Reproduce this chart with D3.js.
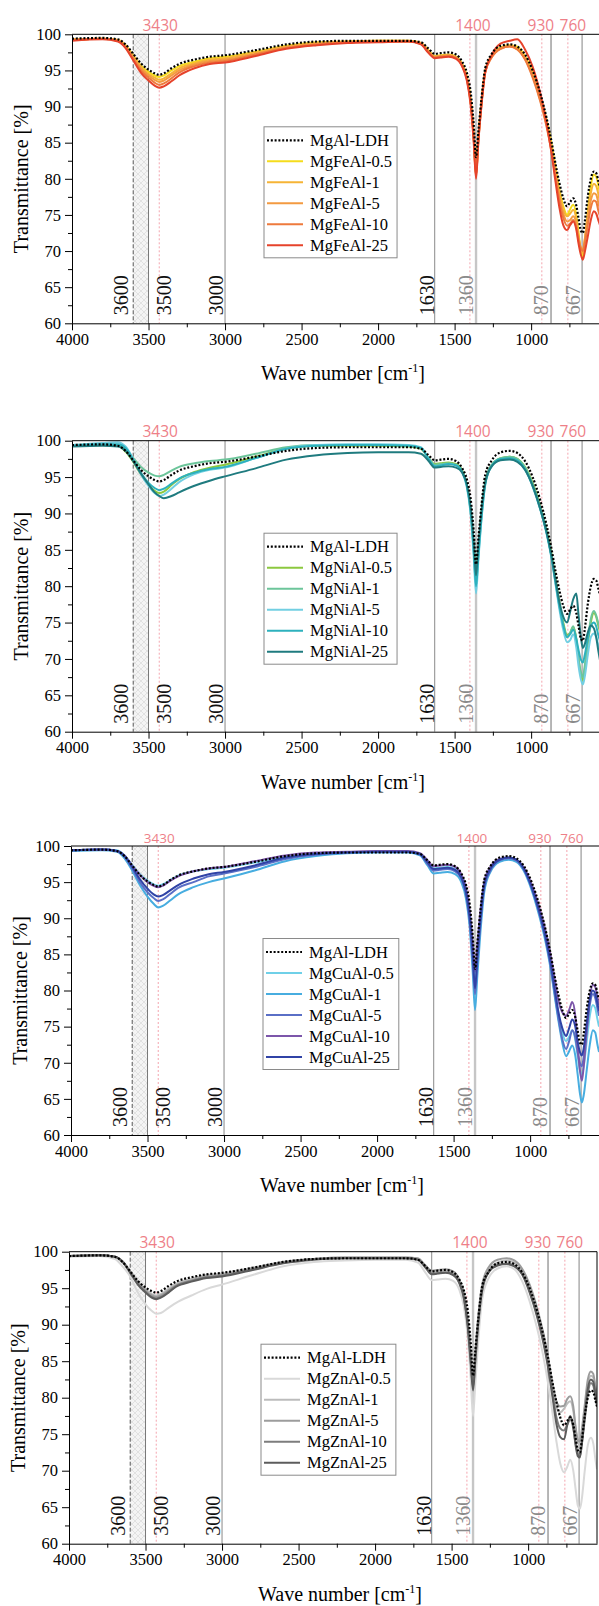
<!DOCTYPE html>
<html><head><meta charset="utf-8">
<script src="https://cdn.jsdelivr.net/npm/d3@7"></script>
<style>body{margin:0;background:#fff}</style>
</head><body><svg id="c" width="599" height="1606" style="background:#fff"></svg>
<script>
// ---------------- DATA ----------------
const wavenumbers = [4000,3800,3700,3650,3600,3550,3500,3460,3430,3400,3350,3300,3200,3100,3000,2800,2600,2400,2200,2000,1800,1720,1670,1630,1590,1540,1490,1450,1420,1395,1375,1360,1345,1325,1300,1260,1200,1140,1090,1040,990,940,900,870,840,815,790,765,745,725,705,690,675,662,650,630,610,590,575,560,550];

const mgAlLDH = [99.4,99.5,99.3,98.6,97.3,96.0,95.1,94.6,94.4,94.6,95.3,95.9,96.5,96.9,97.1,97.8,98.6,99.0,99.1,99.1,99.1,98.9,98.0,97.3,97.4,97.5,97.2,96.2,94.7,92.0,87.5,83.0,86.5,91.0,95.3,97.2,98.4,98.6,98.3,97.2,95.0,91.8,88.5,85.5,82.0,79.4,77.3,76.2,76.8,77.3,76.3,74.5,72.8,72.5,74.0,77.5,80.0,81.0,80.8,79.6,78.8];

const mgFeAl05 = [99.3,99.4,99.2,98.5,97.1,95.7,94.8,94.3,94.1,94.3,95.0,95.6,96.2,96.7,96.9,97.6,98.4,98.9,99.0,99.1,99.1,98.8,97.8,97.0,97.1,97.2,96.9,95.9,94.2,91.0,86.0,81.0,85.8,90.6,95.0,97.0,98.2,98.5,98.3,97.0,94.8,91.5,88.2,85.2,81.5,78.5,76.2,75.0,75.8,76.4,75.0,72.5,70.0,69.0,71.0,75.5,79.0,80.6,80.3,79.0,78.0];
const mgFeAl1 = [99.3,99.4,99.2,98.4,97.0,95.5,94.5,94.0,93.7,93.9,94.6,95.3,96.0,96.5,96.7,97.5,98.3,98.8,99.0,99.1,99.1,98.8,97.7,96.9,97.0,97.1,96.8,95.8,94.0,90.8,85.8,80.5,85.5,90.4,94.9,96.9,98.1,98.4,98.1,96.8,94.5,91.2,87.8,84.8,81.0,78.0,75.8,74.8,75.2,75.7,74.4,72.0,70.2,69.7,71.5,75.0,78.0,79.3,79.0,77.8,76.8];
const mgFeAl5 = [99.2,99.4,99.1,98.3,96.8,95.3,94.3,93.7,93.4,93.6,94.3,95.0,95.8,96.3,96.5,97.3,98.2,98.7,98.9,99.0,99.0,98.7,97.6,96.9,97.0,97.1,96.8,95.7,93.9,90.6,85.5,80.3,85.2,90.2,94.8,96.8,98.0,98.3,97.9,96.6,94.2,90.9,87.5,84.4,80.5,77.4,75.2,74.1,74.3,74.8,73.8,71.8,70.5,70.2,71.5,74.5,77.0,78.0,77.8,76.6,75.8];
const mgFeAl10 = [99.2,99.4,99.1,98.2,96.6,95.0,94.0,93.3,93.0,93.2,93.9,94.7,95.6,96.1,96.3,97.2,98.1,98.6,98.9,99.0,99.0,98.7,97.5,96.8,96.9,97.0,96.7,95.6,93.8,90.5,85.6,80.5,85.3,90.3,94.7,96.7,98.0,98.3,97.9,96.5,94.0,90.7,87.3,84.1,80.1,76.9,74.6,73.5,73.8,74.3,73.3,71.5,70.3,70.0,71.0,73.6,76.0,77.0,76.8,75.5,74.8];
const mgFeAl25 = [99.1,99.3,99.0,98.1,96.4,94.7,93.6,92.9,92.6,92.8,93.5,94.3,95.3,95.9,96.1,97.0,98.0,98.5,98.8,98.9,99.0,98.6,97.4,96.7,96.8,96.9,96.6,95.5,93.6,90.2,85.0,80.0,85.0,90.0,94.7,97.0,98.7,99.1,99.3,97.9,95.5,91.8,87.8,84.0,79.5,76.0,73.6,72.9,73.6,74.1,73.0,71.0,69.5,68.8,69.8,72.0,74.3,75.5,75.2,74.2,73.6];

const mgNiAl05 = [99.3,99.4,99.3,98.5,97.1,95.4,94.0,93.1,92.8,93.0,93.9,94.7,95.7,96.3,96.7,97.8,98.9,99.3,99.3,99.3,99.2,98.9,97.6,96.8,96.9,97.0,96.8,95.9,94.0,90.5,85.5,81.5,85.0,90.0,94.3,96.6,97.6,97.8,97.5,96.4,94.2,91.0,87.8,84.8,81.0,77.8,75.0,73.3,73.6,74.4,72.8,70.0,67.8,67.0,68.5,72.0,75.0,76.3,75.8,74.5,73.8];
const mgNiAl1 = [99.4,99.5,99.4,98.8,97.6,96.4,95.6,95.2,95.1,95.3,95.9,96.4,96.9,97.2,97.4,98.2,99.1,99.4,99.4,99.4,99.3,99.0,97.6,96.7,96.8,96.9,96.7,95.8,93.9,90.3,85.0,80.5,84.5,89.6,94.2,96.6,97.6,97.8,97.5,96.3,94.0,90.8,87.6,84.5,80.6,77.4,74.7,73.0,73.6,74.5,72.6,70.0,68.2,67.5,69.0,72.5,75.5,76.6,76.0,74.8,74.0];
const mgNiAl5 = [99.4,99.7,99.8,99.2,97.5,95.4,93.8,92.8,92.4,92.6,93.4,94.3,95.4,96.0,96.3,97.6,98.9,99.4,99.5,99.5,99.4,99.1,97.5,96.5,96.6,96.8,96.6,95.6,93.6,89.8,84.0,79.0,83.5,89.0,93.9,96.4,97.4,97.5,97.2,96.0,93.7,90.5,87.3,84.2,80.2,76.8,74.0,72.3,72.6,73.4,71.6,69.0,67.2,66.5,67.5,70.5,73.0,73.5,73.0,71.8,71.0];
const mgNiAl10 = [99.3,99.5,99.5,99.0,97.4,95.6,94.2,93.5,93.2,93.4,94.1,94.8,95.6,96.1,96.4,97.6,98.9,99.3,99.4,99.4,99.3,99.0,97.5,96.5,96.6,96.8,96.6,95.7,93.8,90.2,84.8,80.0,84.0,89.3,94.0,96.5,97.5,97.6,97.3,96.1,93.8,90.6,87.4,84.3,80.4,77.2,74.6,73.0,73.4,74.0,72.8,71.2,69.9,69.5,70.5,72.8,74.5,75.0,74.5,73.2,72.5];
const mgNiAl25 = [99.2,99.3,99.2,98.6,97.2,95.5,94.0,92.9,92.4,92.1,92.4,92.9,93.8,94.5,95.1,96.2,97.4,98.0,98.3,98.4,98.4,98.2,97.2,96.3,96.4,96.5,96.3,95.6,94.0,90.8,86.0,81.5,85.5,90.2,94.2,96.4,97.3,97.4,97.1,96.0,93.8,90.6,87.5,84.5,80.8,77.8,75.8,75.0,76.5,78.2,79.0,76.0,73.0,71.5,72.0,73.6,74.6,74.2,73.0,71.0,69.8];

const mgCuAl05 = [99.4,99.5,99.4,98.7,97.4,96.1,95.2,94.7,94.5,94.7,95.3,95.9,96.5,96.8,97.0,97.7,98.5,98.9,99.1,99.2,99.2,98.9,97.8,96.9,97.0,97.1,96.8,95.8,93.8,90.3,84.8,80.0,84.6,89.8,94.4,96.8,98.0,98.3,98.0,96.8,94.4,91.0,87.6,84.3,80.2,76.8,74.2,73.0,73.6,74.5,73.2,71.0,69.0,68.3,69.5,73.0,76.5,78.0,77.6,76.0,75.0];
const mgCuAl1 = [99.3,99.4,99.2,98.3,96.6,94.6,93.0,92.0,91.5,91.7,92.5,93.3,94.3,95.0,95.5,96.6,97.9,98.6,99.0,99.1,99.1,98.7,97.3,96.2,96.3,96.4,96.1,95.0,92.8,88.8,82.5,77.3,82.0,88.0,93.6,96.4,97.8,98.1,97.8,96.5,93.9,90.3,86.8,83.5,79.3,75.8,72.8,70.9,71.6,72.4,71.0,68.5,65.8,64.5,65.5,69.0,72.5,74.5,74.2,72.5,71.5];
const mgCuAl5 = [99.4,99.5,99.3,98.5,96.9,95.0,93.6,92.8,92.4,92.6,93.4,94.2,95.0,95.8,96.2,97.1,98.2,98.8,99.1,99.2,99.2,98.8,97.5,96.6,96.7,96.8,96.5,95.5,93.4,89.6,84.0,79.5,83.8,89.2,94.2,96.6,98.0,98.3,98.0,96.7,94.2,90.7,87.2,83.9,79.7,76.2,73.3,71.9,73.0,74.5,73.5,71.5,70.0,69.5,70.8,74.5,78.0,79.5,79.0,77.5,76.5];
const mgCuAl10 = [99.4,99.5,99.3,98.7,97.3,96.0,95.0,94.5,94.3,94.5,95.2,95.8,96.5,96.9,97.1,97.9,98.7,99.1,99.2,99.3,99.3,99.0,98.0,97.2,97.3,97.4,97.1,96.1,94.3,91.0,86.5,82.6,86.3,91.0,95.0,97.1,98.2,98.4,98.1,97.0,94.7,91.5,88.3,85.3,81.6,78.6,77.0,76.5,77.3,78.4,76.5,72.5,69.0,67.5,69.5,74.5,79.0,80.8,80.5,79.0,78.0];
const mgCuAl25 = [99.4,99.5,99.3,98.6,97.1,95.4,94.1,93.3,93.0,93.2,93.9,94.6,95.5,96.1,96.4,97.3,98.4,98.9,99.1,99.2,99.2,98.9,97.7,96.8,96.9,97.0,96.7,95.7,93.7,90.2,85.0,80.3,84.6,89.8,94.5,96.8,98.1,98.4,98.1,96.8,94.3,90.9,87.5,84.3,80.3,77.0,74.8,73.7,74.8,76.0,75.0,73.0,71.5,71.0,72.0,75.5,78.8,80.0,79.6,78.2,77.2];

const mgZnAl05 = [99.3,99.4,99.0,98.0,96.6,94.4,92.8,91.9,91.5,91.6,92.3,93.0,94.0,94.9,95.5,96.8,98.0,98.6,98.8,98.9,98.9,98.5,97.1,96.1,96.2,96.3,96.0,94.8,92.5,88.5,82.5,77.5,82.0,88.0,93.5,96.3,97.7,98.0,97.6,96.0,93.2,89.4,85.6,82.0,77.8,74.0,71.0,69.8,70.5,71.5,70.0,67.5,65.2,64.8,66.0,70.0,73.5,74.5,73.8,71.5,70.2];
const mgZnAl1 = [99.4,99.5,99.3,98.7,97.3,95.9,94.9,94.2,94.0,94.2,94.9,95.6,96.3,96.8,97.0,97.8,98.6,99.0,99.2,99.2,99.2,99.0,98.0,97.3,97.4,97.5,97.2,96.1,94.3,90.8,86.3,82.5,86.2,91.2,95.1,97.4,98.5,98.8,98.5,97.4,95.2,91.8,88.5,85.4,81.6,78.6,78.0,78.5,79.2,79.5,78.2,75.8,73.8,73.5,75.0,78.5,81.8,83.0,82.8,81.0,79.8];
const mgZnAl5 = [99.4,99.5,99.3,98.7,97.3,95.8,94.7,94.0,93.8,94.0,94.7,95.4,96.1,96.6,96.8,97.7,98.6,99.0,99.2,99.2,99.2,99.1,98.1,97.4,97.5,97.6,97.3,96.2,94.3,90.6,85.8,82.0,86.0,91.3,95.5,97.8,98.9,99.1,98.8,97.7,95.5,92.2,88.8,85.6,81.8,79.5,78.8,78.9,79.8,80.2,78.8,76.0,74.2,74.0,75.5,79.0,82.5,83.6,83.3,81.5,80.3];
const mgZnAl10 = [99.4,99.5,99.3,98.6,97.2,95.6,94.5,93.8,93.6,93.8,94.5,95.3,96.0,96.5,96.7,97.6,98.5,99.0,99.1,99.1,99.1,98.9,97.9,97.0,97.1,97.2,96.9,95.8,93.8,90.0,85.0,81.4,85.3,90.5,94.8,97.2,98.2,98.4,98.1,97.0,94.6,91.2,87.8,84.6,80.5,77.3,75.8,75.5,76.3,77.0,75.8,73.8,72.3,72.0,73.5,77.0,80.5,82.0,81.7,80.0,78.8];
const mgZnAl25 = [99.4,99.5,99.3,98.6,97.1,95.5,94.4,93.7,93.5,93.7,94.4,95.2,95.9,96.4,96.6,97.5,98.4,98.9,99.1,99.1,99.1,98.9,97.8,96.9,97.0,97.1,96.8,95.7,93.6,89.8,84.7,81.0,85.0,90.3,94.7,97.1,98.1,98.3,98.0,96.9,94.4,91.0,87.5,84.2,80.0,76.4,74.6,74.3,76.2,77.5,76.0,73.5,72.0,71.8,73.5,77.5,81.2,82.5,82.2,80.5,79.2];

const feNames = ["MgFeAl-0.5","MgFeAl-1","MgFeAl-5","MgFeAl-10","MgFeAl-25"];
const niNames = ["MgNiAl-0.5","MgNiAl-1","MgNiAl-5","MgNiAl-10","MgNiAl-25"];
const cuNames = ["MgCuAl-0.5","MgCuAl-1","MgCuAl-5","MgCuAl-10","MgCuAl-25"];
const znNames = ["MgZnAl-0.5","MgZnAl-1","MgZnAl-5","MgZnAl-10","MgZnAl-25"];
const refName = "MgAl-LDH";

const xTicks = [4000,3500,3000,2500,2000,1500,1000];
const xMinorTicks = [3750,3250,2750,2250,1750,1250,750];
const yTicks = [60,65,70,75,80,85,90,95,100];
const yMinorTicks = [62.5,67.5,72.5,77.5,82.5,87.5,92.5,97.5];
const refLines = [3600,3500,3000,1630,1360,870,667];
const refLabels = ["3600","3500","3000","1630","1360","870","667"];
const markLines = [3430,1400,930,760];
const markLabels = ["3430","1400","930","760"];

// ---------------- STYLE / LAYOUT ----------------
const feColors = ["#f5dc1c","#f6b436","#f39a41","#ee7a3c","#e6432b"];
const niColors = ["#8cc83f","#6cc59a","#72cfe2","#2db1bd","#1f7b7f"];
const cuColors = ["#6fd0e8","#47ade0","#5a6fc6","#7c56aa","#3043a6"];
const znColors = ["#d9d9d9","#bcbcbc","#9c9c9c","#7d7d7d","#5c5c5c"];

const panels = [
  {names: feNames, series:[mgFeAl05,mgFeAl1,mgFeAl5,mgFeAl10,mgFeAl25], colors: feColors, left:72, top:34.3, h:289, mk:15.5},
  {names: niNames, series:[mgNiAl05,mgNiAl1,mgNiAl5,mgNiAl10,mgNiAl25], colors: niColors, left:72, top:440.7, h:291, mk:15.5},
  {names: cuNames, series:[mgCuAl05,mgCuAl1,mgCuAl5,mgCuAl10,mgCuAl25], colors: cuColors, left:71, top:846, h:289, mk:13.5},
  {names: znNames, series:[mgZnAl05,mgZnAl1,mgZnAl5,mgZnAl10,mgZnAl25], colors: znColors, left:69, top:1251.7, h:292, mk:15.5}
];

const refStroke = ["#555","#777","#888","#8a8a8a","#c6c6c6","#a5a5a5","#999"];
const refWidth  = [1,1,1,1,2.4,1.6,1.2];
const refDash   = ["4,2",null,null,null,null,null,null];
const refLabelColor = ["#111","#111","#111","#111","#8a8a8a","#8a8a8a","#8a8a8a"];
const refLabelDx = [-5,22,-2,-1,-3,-3,-2];
const markDx = [1,3,-1,5];

const SERIF = "\"Liberation Serif\", \"Times New Roman\", serif";
const SANS = "\"Open Sans\", \"Liberation Sans\", sans-serif";

const svg = d3.select("#c");
const defs = svg.append("defs");
const pat = defs.append("pattern").attr("id","hatch").attr("patternUnits","userSpaceOnUse")
  .attr("width",6).attr("height",6);
pat.append("rect").attr("width",6).attr("height",6).attr("fill","#f4f4f4");
pat.append("path").attr("d","M0,0L6,6M6,0L0,6").attr("stroke","#d9d9d9").attr("stroke-width",0.7);

panels.forEach((p, pi) => {
  const L = p.left, T = p.top, H = p.h, R = L + 528;
  const x = d3.scaleLinear().domain([4000,550]).range([L,R]);
  const y = d3.scaleLinear().domain([60,100]).range([T+H,T]);
  const g = svg.append("g");

  defs.append("clipPath").attr("id","clip"+pi).append("rect")
    .attr("x",L).attr("y",T-3).attr("width",R-L).attr("height",H+6);

  g.append("rect").attr("x",x(3600)).attr("y",T).attr("width",x(3500)-x(3600)).attr("height",H)
    .attr("fill","url(#hatch)");

  refLines.forEach((w,i) => {
    g.append("line").attr("x1",x(w)).attr("x2",x(w)).attr("y1",T).attr("y2",T+H)
      .attr("stroke",refStroke[i]).attr("stroke-width",refWidth[i])
      .attr("stroke-dasharray",refDash[i]);
  });
  markLines.forEach((w) => {
    g.append("line").attr("x1",x(w)).attr("x2",x(w)).attr("y1",T).attr("y2",T+H)
      .attr("stroke","#f4a5ae").attr("stroke-width",1).attr("stroke-dasharray","2,2");
  });

  refLines.forEach((w,i) => {
    g.append("text").attr("transform",`translate(${x(w)+refLabelDx[i]},${T+H-8}) rotate(-90)`)
      .style("font-family",SERIF).attr("font-size",20).attr("fill",refLabelColor[i])
      .text(refLabels[i]);
  });
  markLines.forEach((w,i) => {
    g.append("text").attr("x",x(w)+markDx[i]).attr("y",T-3.5).attr("text-anchor","middle")
      .style("font-family",SANS).attr("font-size",p.mk).attr("fill","#ee7f88")
      .text(markLabels[i]);
  });

  const line = d3.line().x(d=>x(d[0])).y(d=>y(d[1])).curve(d3.curveMonotoneX);
  const lg = g.append("g").attr("clip-path",`url(#clip${pi})`);
  p.series.forEach((s,si) => {
    lg.append("path").datum(wavenumbers.map((w,k)=>[w,s[k]]))
      .attr("d",line).attr("fill","none").attr("stroke",p.colors[si]).attr("stroke-width",2)
      .attr("stroke-linejoin","round");
  });
  lg.append("path").datum(wavenumbers.map((w,k)=>[w,mgAlLDH[k]]))
    .attr("d",line).attr("fill","none").attr("stroke","#000").attr("stroke-width",2.2)
    .attr("stroke-dasharray","2,1.8");

  g.append("line").attr("x1",L).attr("x2",R).attr("y1",T).attr("y2",T).attr("stroke","#000").attr("stroke-width",1);
  if (R < 598) {
    g.append("line").attr("x1",R).attr("x2",R).attr("y1",T).attr("y2",T+H).attr("stroke","#000").attr("stroke-width",1);
  }

  const xa = g.append("g").attr("transform",`translate(0,${T+H})`)
    .call(d3.axisBottom(x).tickValues(xTicks).tickSize(7).tickSizeOuter(0).tickPadding(3).tickFormat(d3.format("d")));
  xa.style("font-family",SERIF).attr("font-size",16.5);
  xa.selectAll("text").attr("fill","#000");
  g.append("g").attr("transform",`translate(0,${T+H})`)
    .call(d3.axisBottom(x).tickValues(xMinorTicks).tickSize(4).tickSizeOuter(0).tickFormat(""))
    .select(".domain").remove();

  const ya = g.append("g").attr("transform",`translate(${L},0)`)
    .call(d3.axisLeft(y).tickValues(yTicks).tickSize(7).tickSizeOuter(0).tickPadding(4));
  ya.style("font-family",SERIF).attr("font-size",16.5);
  ya.selectAll("text").attr("fill","#000");
  g.append("g").attr("transform",`translate(${L},0)`)
    .call(d3.axisLeft(y).tickValues(yMinorTicks).tickSize(4).tickSizeOuter(0).tickFormat(""))
    .select(".domain").remove();

  const xt = g.append("text").attr("x",L+271).attr("y",T+H+57).attr("text-anchor","middle")
    .style("font-family",SERIF).attr("font-size",20).attr("fill","#000");
  xt.append("tspan").text("Wave number [cm");
  xt.append("tspan").attr("font-size",12).attr("dy",-8).text("-1");
  xt.append("tspan").attr("dy",8).text("]");

  g.append("text").attr("transform",`translate(${L-44},${T+H/2}) rotate(-90)`)
    .attr("text-anchor","middle").style("font-family",SERIF).attr("font-size",20).attr("fill","#000")
    .text("Transmittance [%]");

  const bx = L + 192, by = T + 92.5;
  const leg = g.append("g");
  const box = leg.append("rect").attr("x",bx).attr("y",by).attr("height",131)
    .attr("fill","#fff").attr("stroke","#8a8a8a").attr("stroke-width",1);
  const names = [refName].concat(p.names);
  let maxW = 0;
  names.forEach((n,i) => {
    const cy = by + 13.5 + 21*i;
    const ln = leg.append("line").attr("x1",bx+3).attr("x2",bx+39).attr("y1",cy).attr("y2",cy)
      .attr("stroke", i===0 ? "#000" : p.colors[i-1]).attr("stroke-width", i===0?2.2:2);
    if (i===0) ln.attr("stroke-dasharray","2,1.8");
    const t = leg.append("text").attr("x",bx+46).attr("y",cy+5.5).style("font-family",SERIF)
      .attr("font-size",16.5).attr("fill","#000").text(n);
    maxW = Math.max(maxW, t.node().getComputedTextLength());
  });
  box.attr("width", 46 + maxW + 5);
});
</script>
</body></html>
